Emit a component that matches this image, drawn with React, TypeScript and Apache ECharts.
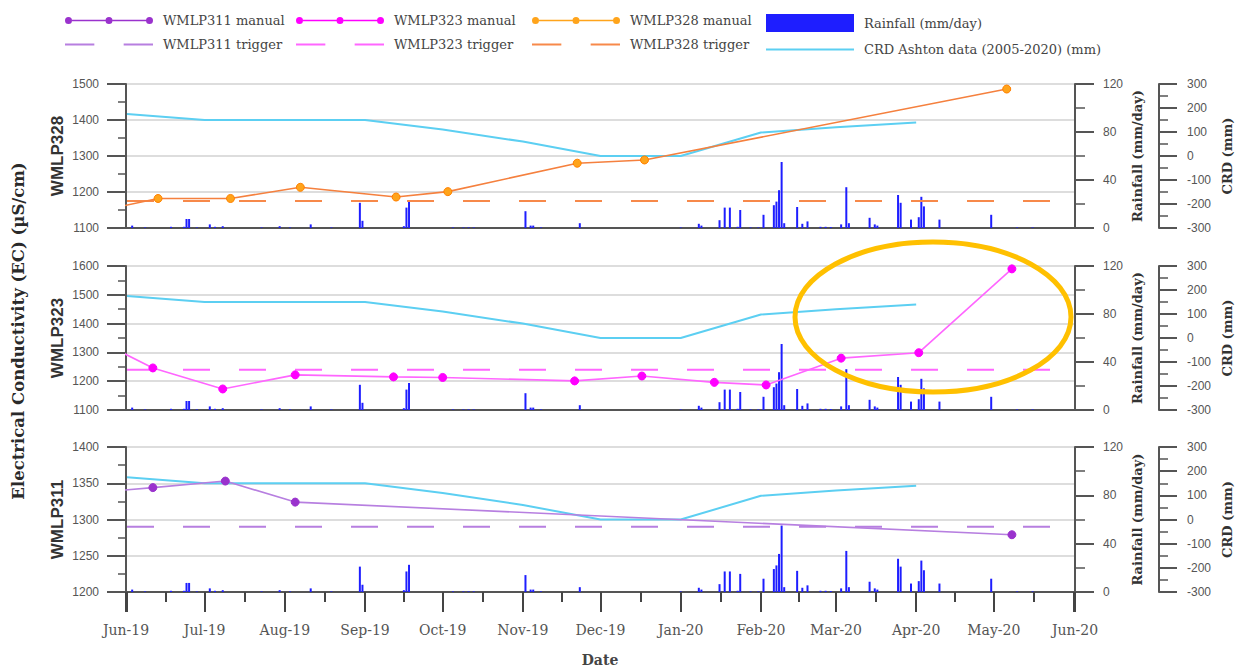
import React, { useEffect, useRef } from 'react';
import * as echarts from 'echarts';

// ---------- data ----------
const MONTH_NAMES = ['Jan', 'Feb', 'Mar', 'Apr', 'May', 'Jun', 'Jul', 'Aug', 'Sep', 'Oct', 'Nov', 'Dec'];
const X_MIN = '2019-06-01';
const X_MAX = '2020-06-01';

const wmlp328Dates = ['2019-05-15', '2019-06-13', '2019-07-11', '2019-08-07', '2019-09-13', '2019-10-03', '2019-11-22', '2019-12-18', '2020-05-06'];
const wmlp328Values = [1138, 1182, 1182, 1213, 1186, 1201, 1280, 1289, 1486];

const wmlp323Dates = ['2019-05-22', '2019-06-11', '2019-07-08', '2019-08-05', '2019-09-12', '2019-10-01', '2019-11-21', '2019-12-17', '2020-01-14', '2020-02-03', '2020-03-03', '2020-04-02', '2020-05-08'];
const wmlp323Values = [1336, 1246, 1173, 1222, 1215, 1213, 1201, 1218, 1196, 1187, 1280, 1299, 1590];

const wmlp311Dates = ['2019-05-22', '2019-06-11', '2019-07-09', '2019-08-05', '2020-05-08'];
const wmlp311Values = [1338, 1344, 1353, 1324, 1279];

const triggerValues = { WMLP328: 1175, WMLP323: 1240, WMLP311: 1290 };

const crdDates = ['2019-06-01', '2019-07-01', '2019-08-01', '2019-09-01', '2019-10-01', '2019-11-01', '2019-12-01', '2020-01-01', '2020-02-01', '2020-03-01', '2020-04-01'];
const crdValues = [175, 150, 150, 150, 110, 60, 0, 0, 98, 120, 140];

const rainDates = [
  '2019-06-03', '2019-06-08', '2019-06-18', '2019-06-23', '2019-06-24', '2019-06-25', '2019-06-28',
  '2019-07-03', '2019-07-05', '2019-07-08', '2019-07-23', '2019-07-30',
  '2019-08-03', '2019-08-11', '2019-08-19', '2019-08-30', '2019-08-31',
  '2019-09-16', '2019-09-17', '2019-09-18',
  '2019-10-05', '2019-10-09', '2019-10-11', '2019-10-13',
  '2019-11-02', '2019-11-04', '2019-11-05', '2019-11-08', '2019-11-23',
  '2020-01-01', '2020-01-08', '2020-01-09', '2020-01-16', '2020-01-18', '2020-01-20', '2020-01-23', '2020-01-24', '2020-01-28', '2020-01-31',
  '2020-02-02', '2020-02-06', '2020-02-07', '2020-02-08', '2020-02-09', '2020-02-10', '2020-02-15', '2020-02-17', '2020-02-19', '2020-02-24', '2020-02-26', '2020-02-28',
  '2020-03-03', '2020-03-05', '2020-03-06', '2020-03-14', '2020-03-16', '2020-03-17', '2020-03-25', '2020-03-26', '2020-03-30',
  '2020-04-02', '2020-04-03', '2020-04-04', '2020-04-10', '2020-04-30',
  '2020-05-10', '2020-05-16',
];
const rainValues = [
  2, 0.5, 1, 1, 7.5, 7.5, 0.5,
  3, 1, 1.5, 0.5, 1.5,
  0.5, 3, 0.5, 21, 6,
  1.5, 17, 22.5,
  0.5, 0.5, 0.5, 0.5,
  14, 2, 2, 0.5, 4,
  0.5, 3.5, 2, 6.5, 17, 17, 1, 15, 0.5, 0.5,
  11, 19, 22, 31.5, 55, 4, 17.5, 3.5, 5.5, 1, 1, 0.8,
  3, 34, 4, 8.5, 3, 2, 27.5, 21, 7,
  9, 26, 18, 7, 11,
  0.5, 0.5,
];

// ---------- helpers ----------
function ts(s: string): number {
  const [y, m, d] = s.split('-').map(Number);
  return new Date(y, m - 1, d).getTime();
}
const DAY = 86400000;

const PANELS = [
  { id: 'WMLP328', dates: wmlp328Dates, values: wmlp328Values, min: 1100, max: 1500, interval: 100, line: '#F5803E', dot: '#FFA41B', dotBorder: '#FF8000' },
  { id: 'WMLP323', dates: wmlp323Dates, values: wmlp323Values, min: 1100, max: 1600, interval: 100, line: '#FF66FF', dot: '#FF00FF', dotBorder: '#FF00FF' },
  { id: 'WMLP311', dates: wmlp311Dates, values: wmlp311Values, min: 1200, max: 1400, interval: 50, line: '#B77FE0', dot: '#9A32CD', dotBorder: '#9A32CD' },
];

const TRIGGER_COLORS: Record<string, string> = { WMLP328: '#F7894A', WMLP323: '#FF66FF', WMLP311: '#B77FE0' };

const GRID_TOPS = [84, 266, 447];
const GRID_HEIGHTS = [144, 144, 145];

const MANUAL_ICON = 'path://M0,3.5a3.5,3.5 0 1,0 7,0a3.5,3.5 0 1,0 -7,0Z M7,2.7H40.5V4.3H7Z M40.5,3.5a3.5,3.5 0 1,0 7,0a3.5,3.5 0 1,0 -7,0Z M47.5,2.7H81V4.3H47.5Z M81,3.5a3.5,3.5 0 1,0 7,0a3.5,3.5 0 1,0 -7,0Z';
const TRIGGER_ICON = 'path://M0,0H28V2H0Z M56,0H84V2H56Z';
const CRD_ICON = 'path://M0,0H88V2H0Z';

const AXIS_COLOR = '#555';
const SERIF = '"DejaVu Serif", serif';
const SANS = '"Liberation Sans", Arial, sans-serif';
const CRD_COLOR = '#5CCFF2';
const RAIN_COLOR = '#1E1EFF';

function buildOption(): any {
  const grids: any[] = [];
  const xAxes: any[] = [];
  const yAxes: any[] = [];
  const series: any[] = [];

  const rainData = rainDates.map((d, i) => [ts(d), rainValues[i]]);
  const crdData = crdDates.map((d, i) => [ts(d), crdValues[i]]);
  const plain = (v: number) => String(v);

  PANELS.forEach((p, i) => {
    grids.push({ left: 126, top: GRID_TOPS[i], width: 949, height: GRID_HEIGHTS[i], outerBoundsMode: 'none' });
    const bottom = i === 2;
    xAxes.push({
      gridIndex: i,
      type: 'time',
      min: ts(X_MIN),
      max: ts(X_MAX),
      splitNumber: 12,
      minInterval: 28 * DAY,
      maxInterval: 31 * DAY,
      axisLine: { show: true, onZero: false, lineStyle: { color: AXIS_COLOR, width: 2 } },
      splitLine: { show: false },
      axisTick: { show: bottom, length: 20, lineStyle: { color: '#444', width: 2 } },
      minorTick: { show: bottom, splitNumber: 2, length: 10, lineStyle: { color: '#444', width: 2 } },
      axisLabel: {
        show: bottom,
        margin: 31,
        hideOverlap: false,
        showMinLabel: true,
        showMaxLabel: true,
        fontFamily: SERIF,
        fontSize: 14,
        color: '#555',
        formatter: (v: number) => {
          const d = new Date(v + 2 * DAY);
          return MONTH_NAMES[d.getMonth()] + '-' + String(d.getFullYear()).slice(2);
        },
      },
    });
    yAxes.push({
      gridIndex: i,
      type: 'value',
      position: 'left',
      min: p.min,
      max: p.max,
      interval: p.interval,
      name: p.id,
      nameLocation: 'middle',
      nameGap: 60,
      nameMoveOverlap: false,
      nameRotate: 90,
      nameTextStyle: { fontFamily: SANS, fontWeight: 'bold', fontSize: 17, color: '#333' },
      axisLine: { show: true, lineStyle: { color: AXIS_COLOR, width: 2 } },
      axisTick: { show: true, length: 19, lineStyle: { color: AXIS_COLOR, width: 2 } },
      minorTick: { show: true, splitNumber: 2, length: 8, lineStyle: { color: AXIS_COLOR, width: 1.5 } },
      splitLine: { show: true, lineStyle: { color: '#d2d2d2', width: 1.5 } },
      axisLabel: { margin: 27, fontFamily: SANS, fontSize: 12, color: '#555', formatter: plain },
    });
    yAxes.push({
      gridIndex: i,
      type: 'value',
      position: 'right',
      offset: 0,
      min: 0,
      max: 120,
      interval: 40,
      name: 'Rainfall (mm/day)',
      nameLocation: 'middle',
      nameGap: 56,
      nameMoveOverlap: false,
      nameRotate: 90,
      nameTextStyle: { fontFamily: SERIF, fontWeight: 'bold', fontSize: 13, color: '#333' },
      axisLine: { show: true, lineStyle: { color: AXIS_COLOR, width: 2 } },
      axisTick: { show: true, length: 19, lineStyle: { color: AXIS_COLOR, width: 2 } },
      minorTick: { show: true, splitNumber: 2, length: 10, lineStyle: { color: AXIS_COLOR, width: 1.5 } },
      splitLine: { show: false },
      axisLabel: { margin: 28, fontFamily: SANS, fontSize: 12, color: '#555', formatter: plain },
    });
    yAxes.push({
      gridIndex: i,
      type: 'value',
      position: 'right',
      offset: 84,
      min: -300,
      max: 300,
      interval: 100,
      name: 'CRD (mm)',
      nameLocation: 'middle',
      nameGap: 62,
      nameMoveOverlap: false,
      nameRotate: 90,
      nameTextStyle: { fontFamily: SERIF, fontWeight: 'bold', fontSize: 13, color: '#333' },
      axisLine: { show: true, lineStyle: { color: AXIS_COLOR, width: 2 } },
      axisTick: { show: true, length: 18, lineStyle: { color: AXIS_COLOR, width: 2 } },
      minorTick: { show: true, splitNumber: 2, length: 9, lineStyle: { color: AXIS_COLOR, width: 1.5 } },
      splitLine: { show: false },
      axisLabel: { margin: 28, fontFamily: SANS, fontSize: 12, color: '#555', formatter: plain },
    });

    series.push({
      name: 'Rainfall (mm/day)',
      type: 'bar',
      xAxisIndex: i,
      yAxisIndex: 3 * i + 1,
      data: rainData,
      barWidth: 2,
      itemStyle: { color: RAIN_COLOR },
      z: 1,
    });
    series.push({
      name: 'CRD Ashton data (2005-2020) (mm)',
      type: 'line',
      xAxisIndex: i,
      yAxisIndex: 3 * i + 2,
      data: crdData,
      symbol: 'none',
      lineStyle: { color: CRD_COLOR, width: 2 },
      itemStyle: { color: CRD_COLOR },
      z: 2,
    });
    const trig = (triggerValues as any)[p.id];
    series.push({
      name: p.id + ' trigger',
      type: 'line',
      xAxisIndex: i,
      yAxisIndex: 3 * i,
      data: [[ts(X_MIN), trig], [ts(X_MAX), trig]],
      symbol: 'none',
      lineStyle: { color: TRIGGER_COLORS[p.id], width: 2, type: [27, 29] },
      itemStyle: { color: TRIGGER_COLORS[p.id] },
      z: 3,
    });
    series.push({
      name: p.id + ' manual',
      type: 'line',
      xAxisIndex: i,
      yAxisIndex: 3 * i,
      data: p.dates.map((d, j) => [ts(d), p.values[j]]),
      symbol: 'circle',
      symbolSize: 8,
      clip: true,
      lineStyle: { color: p.line, width: 1.6 },
      itemStyle: { color: p.dot, borderColor: p.dotBorder, borderWidth: 1 },
      z: 4,
    });
  });

  const legendBase = {
    orient: 'vertical',
    top: 9,
    itemWidth: 88,
    itemHeight: 18,
    itemGap: 11,
    selectedMode: false,
    itemStyle: { borderWidth: 0 },
    textStyle: { fontFamily: SERIF, fontSize: 13, color: '#444', padding: [0, 0, 0, 5] },
  };

  const legends = [
    { ...legendBase, left: 60, data: [{ name: 'WMLP311 manual', icon: MANUAL_ICON }, { name: 'WMLP311 trigger', icon: TRIGGER_ICON }] },
    { ...legendBase, left: 291, data: [{ name: 'WMLP323 manual', icon: MANUAL_ICON }, { name: 'WMLP323 trigger', icon: TRIGGER_ICON }] },
    { ...legendBase, left: 527, data: [{ name: 'WMLP328 manual', icon: MANUAL_ICON }, { name: 'WMLP328 trigger', icon: TRIGGER_ICON }] },
    { ...legendBase, left: 761, data: [{ name: 'Rainfall (mm/day)', icon: 'rect' }, { name: 'CRD Ashton data (2005-2020) (mm)', icon: CRD_ICON }] },
  ];

  return {
    animation: false,
    backgroundColor: '#ffffff',
    textStyle: { fontFamily: SANS },
    legend: legends,
    grid: grids,
    xAxis: xAxes,
    yAxis: yAxes,
    series,
    graphic: [
      {
        type: 'text',
        x: 18,
        y: 331,
        rotation: Math.PI / 2,
        style: {
          text: 'Electrical Conductivity (EC) (µS/cm)',
          font: 'bold 16.5px "DejaVu Serif"',
          fill: '#2a2a2a',
          align: 'center',
          verticalAlign: 'middle',
          textAlign: 'center',
          textVerticalAlign: 'middle',
        },
      },
      {
        type: 'text',
        x: 600,
        y: 660,
        style: {
          text: 'Date',
          font: 'bold 14px "DejaVu Serif"',
          fill: '#444',
          align: 'center',
          verticalAlign: 'middle',
          textAlign: 'center',
          textVerticalAlign: 'middle',
        },
      },
      {
        type: 'ellipse',
        shape: { cx: 933, cy: 317, rx: 138, ry: 75 },
        style: { fill: 'none', stroke: '#FFC000', lineWidth: 5 },
        z: 100,
      },
    ],
  };
}

export default function App() {
  const ref = useRef<HTMLDivElement>(null);
  useEffect(() => {
    document.body.style.margin = '0';
    if (!ref.current) return;
    const chart = echarts.init(ref.current, undefined, { renderer: 'svg' });
    chart.setOption(buildOption());
    return () => chart.dispose();
  }, []);
  return <div ref={ref} style={{ width: 1242, height: 668 }} />;
}
